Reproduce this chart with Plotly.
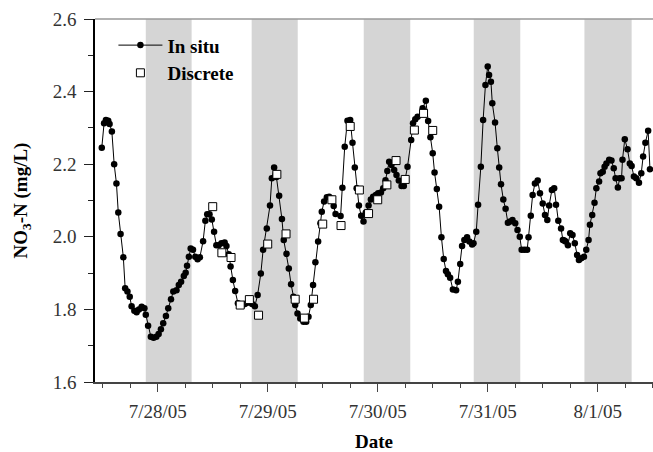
import pandas as pd
import plotly.graph_objects as go

# ---- data (hours since 2005-07-27 00:00) ----
insitu_hours = [11.8, 12.3, 12.7, 13.2, 13.5, 14.0, 14.5, 15.0, 15.4, 15.9, 16.5, 16.9, 17.4, 17.9,
                18.3, 18.9, 19.4, 19.9, 20.5, 21.1, 21.4, 21.9, 22.5, 23.1, 23.7, 24.2, 24.7, 25.2,
                25.8, 26.3, 26.9, 27.4, 28.1, 28.6, 29.1, 29.7, 30.1, 30.4, 30.8, 31.2, 31.7, 32.2,
                32.7, 33.2, 33.9, 34.4, 34.8, 35.3, 35.8, 36.3, 36.8, 37.3, 37.9, 38.6, 39.0, 39.5,
                39.9, 40.4, 40.9, 41.5, 42.0, 42.5, 43.0, 43.6, 44.1, 44.6, 45.2, 45.8, 46.5, 47.0,
                47.8, 48.5, 48.9, 49.4, 49.9, 50.5, 51.1, 51.5, 52.1, 52.6, 53.1, 53.6, 54.0, 54.5,
                55.1, 55.8, 56.4, 56.9, 57.4, 57.9, 58.4, 59.0, 59.5, 59.8, 60.3, 60.9, 61.4, 62.0,
                62.4, 62.8, 63.9, 64.3, 64.8, 65.4, 66.0, 66.5, 67.0, 67.4, 67.9, 68.4, 68.9, 69.4,
                70.0, 70.5, 71.0, 71.6, 72.1, 72.7, 73.2, 73.7, 74.1, 74.5, 75.0, 75.6, 76.1, 76.6,
                77.2, 77.7, 78.5, 79.3, 79.7, 80.2, 80.7, 81.8, 82.5, 83.0, 83.5, 84.0, 84.4, 84.9,
                85.4, 85.9, 86.4, 86.9, 87.3, 87.8, 88.4, 89.1, 89.5, 90.0, 90.4, 90.9, 91.5, 92.0,
                92.6, 92.9, 93.5, 93.9, 94.5, 95.0, 95.5, 96.0, 96.3, 96.7, 97.0, 97.6, 98.1, 98.5,
                98.9, 99.4, 99.9, 100.4, 100.9, 101.4, 102.0, 102.5, 103.0, 103.4, 104.0, 104.6,
                104.9, 105.4, 105.8, 106.3, 106.9, 107.4, 108.0, 108.5, 109.0, 109.4, 110.0, 110.5,
                110.9, 111.4, 112.0, 112.4, 112.7, 113.0, 113.5, 114.0, 114.5, 115.0, 115.5, 115.9,
                116.4, 117.0, 117.5, 118.0, 118.3, 118.8, 119.3, 119.7, 120.3, 120.6, 121.1, 121.5,
                121.9, 122.5, 123.0, 123.5, 123.9, 124.4, 124.8, 125.2, 125.4, 125.9, 126.5, 127.0,
                127.4, 127.9, 128.4, 129.0, 129.5, 129.9, 130.4, 131.0, 131.4]
insitu_values = [2.245, 2.313, 2.322, 2.320, 2.311, 2.290, 2.200, 2.147, 2.067, 2.008, 1.944, 1.858, 1.849, 1.835,
                 1.809, 1.796, 1.792, 1.800, 1.807, 1.803, 1.785, 1.755, 1.725, 1.722, 1.725, 1.732, 1.745, 1.762,
                 1.782, 1.803, 1.828, 1.849, 1.853, 1.867, 1.876, 1.892, 1.901, 1.920, 1.945, 1.968, 1.964, 1.945,
                 1.938, 1.944, 1.988, 2.044, 2.062, 2.062, 2.048, 2.014, 1.977, 1.977, 1.982, 1.984, 1.975, 1.952,
                 1.918, 1.881, 1.851, 1.817, 1.812, 1.812, 1.815, 1.818, 1.822, 1.815, 1.809, 1.840, 1.899, 1.964,
                 2.023, 2.086, 2.161, 2.191, 2.165, 2.113, 2.049, 1.991, 1.953, 1.913, 1.869, 1.835, 1.812, 1.789,
                 1.775, 1.766, 1.766, 1.780, 1.812, 1.867, 1.930, 1.987, 2.037, 2.069, 2.097, 2.109, 2.110, 2.105,
                 2.085, 2.063, 2.057, 2.135, 2.248, 2.320, 2.322, 2.259, 2.191, 2.134, 2.086, 2.058, 2.042, 2.067,
                 2.086, 2.103, 2.110, 2.115, 2.120, 2.122, 2.134, 2.156, 2.181, 2.207, 2.198, 2.184, 2.170, 2.155,
                 2.140, 2.140, 2.193, 2.267, 2.313, 2.324, 2.331, 2.354, 2.375, 2.319, 2.274, 2.230, 2.177, 2.132,
                 2.083, 1.999, 1.939, 1.906, 1.897, 1.887, 1.855, 1.853, 1.876, 1.925, 1.975, 1.991, 1.999, 1.987,
                 1.979, 1.982, 2.014, 2.088, 2.193, 2.322, 2.418, 2.469, 2.446, 2.427, 2.368, 2.315, 2.244, 2.191,
                 2.145, 2.103, 2.077, 2.039, 2.042, 2.046, 2.037, 2.019, 2.000, 1.964, 1.964, 1.964,
                 1.999, 2.058, 2.115, 2.147, 2.155, 2.120, 2.092, 2.060, 2.046, 2.086, 2.129, 2.134,
                 2.088, 2.044, 2.023, 1.991, 1.990, 1.987, 1.977, 2.010, 2.005, 1.982, 1.950, 1.936,
                 1.941, 1.945, 1.964, 1.991, 2.033, 2.060, 2.094, 2.134, 2.152, 2.175, 2.179, 2.193,
                 2.202, 2.212, 2.210, 2.189, 2.161, 2.136, 2.161, 2.161, 2.212, 2.269, 2.241, 2.202,
                 2.195, 2.166, 2.161, 2.149, 2.175, 2.221, 2.259, 2.292, 2.186]

discrete_hours = [36, 38, 40, 42, 44, 46, 48, 50, 52, 54, 56, 58, 60, 62, 64, 66, 68, 70, 72, 74, 76, 78, 80, 82, 84]
discrete_values = [2.083, 1.956, 1.943, 1.812, 1.827, 1.784, 1.980, 2.172, 2.008, 1.828, 1.776, 1.828, 2.035,
                   2.102, 2.031, 2.304, 2.129, 2.064, 2.102, 2.143, 2.210, 2.158, 2.294, 2.340, 2.293]

night_start_hours = [21.4, 44.5, 68.95, 92.95, 117.1]
night_end_hours = [31.4, 54.55, 79.1, 103.1, 127.4]

tick_dates = ["2005-07-28", "2005-07-29", "2005-07-30", "2005-07-31", "2005-08-01"]
tick_labels = ["7/28/05", "7/29/05", "7/30/05", "7/31/05", "8/1/05"]

base = pd.Timestamp("2005-07-27")
to_dt = lambda hrs: [base + pd.Timedelta(hours=h) for h in hrs]

SERIF = "Liberation Serif"

fig = go.Figure()
for s, e in zip(to_dt(night_start_hours), to_dt(night_end_hours)):
    fig.add_shape(type="rect", xref="x", yref="paper", x0=s, x1=e, y0=0, y1=1,
                  fillcolor="#d5d5d5", line=dict(width=0), layer="below")

fig.add_trace(go.Scatter(x=to_dt(insitu_hours), y=insitu_values, mode="lines+markers",
                         name="In situ", line=dict(color="black", width=1),
                         marker=dict(color="black", size=6.5, symbol="circle")))
fig.add_trace(go.Scatter(x=to_dt(discrete_hours), y=discrete_values, mode="markers",
                         name="Discrete",
                         marker=dict(color="white", size=8, symbol="square",
                                     line=dict(color="black", width=1))))

fig.add_shape(type="line", xref="paper", yref="paper", x0=0, x1=1, y0=1, y1=1,
              line=dict(color="#999999", width=1.5))

minor_vals = pd.date_range("2005-07-27 12:00", "2005-08-01 12:00", freq="6h")

fig.update_xaxes(
    type="date", automargin=False,
    range=[base + pd.Timedelta(hours=10.32), base + pd.Timedelta(hours=132.06)],
    tickmode="array", tickvals=pd.to_datetime(tick_dates), ticktext=tick_labels,
    ticks="outside", ticklen=8, tickwidth=1.2, tickcolor="#444",
    minor=dict(tickmode="array", tickvals=minor_vals, ticks="outside", ticklen=4,
               tickwidth=1, tickcolor="#444", showgrid=False),
    showline=True, linecolor="#444", linewidth=1.5, showgrid=False, zeroline=False,
    tickfont=dict(family=SERIF, size=19, color="#333"), ticklabelstandoff=3,
    title=dict(text="Date", font=dict(family=SERIF, size=19, color="black", weight="bold"),
               standoff=20),
)
fig.update_yaxes(
    automargin=False,
    range=[1.6, 2.6], tickmode="linear", tick0=1.6, dtick=0.2, tickformat=".1f",
    ticks="outside", ticklen=9, tickwidth=1.2, tickcolor="#222",
    minor=dict(dtick=0.1, ticks="outside", ticklen=5, tickwidth=1, tickcolor="#222", showgrid=False),
    showline=True, linecolor="black", linewidth=1.5, showgrid=False, zeroline=False,
    tickfont=dict(family=SERIF, size=19, color="#333"), ticklabelstandoff=4,
    title=dict(text="NO<sub>3</sub>-N (mg/L)", font=dict(family=SERIF, size=19, color="black", weight="bold"),
               standoff=20),
)

fig.update_layout(
    width=653, height=452,
    margin=dict(l=95, r=0, t=19, b=70, autoexpand=False),
    paper_bgcolor="white", plot_bgcolor="white",
    showlegend=True,
    legend=dict(x=0.033, y=0.98, xanchor="left", yanchor="top", bgcolor="rgba(0,0,0,0)",
                font=dict(family=SERIF, size=19, color="black", weight="bold"),
                itemwidth=44, tracegroupgap=0),
)

fig.write_html("out.html", config={"displayModeBar": False},
               post_script="document.body.style.margin='0px';document.body.style.overflow='hidden';")
